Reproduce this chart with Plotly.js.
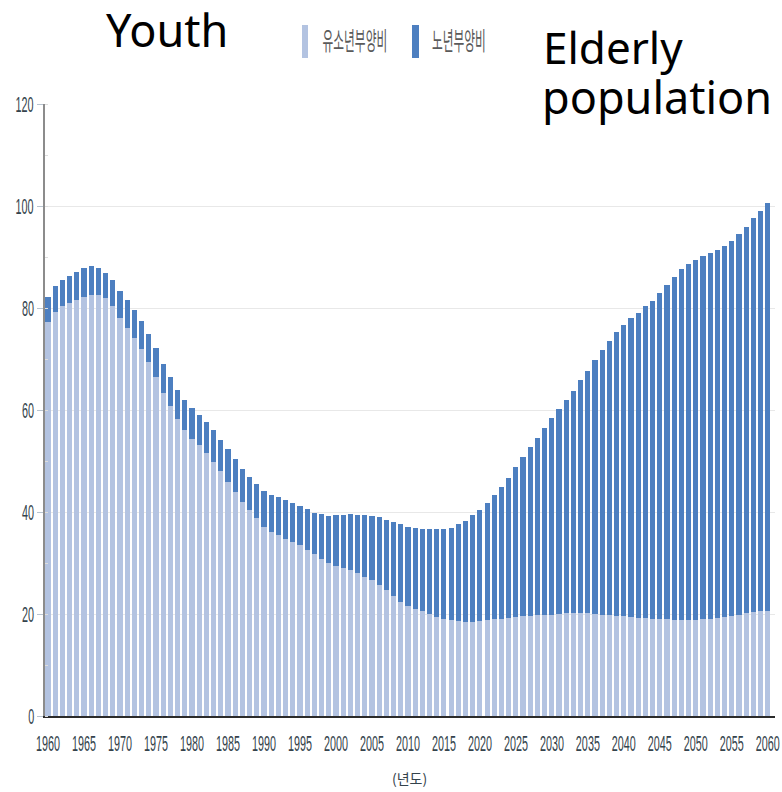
<!DOCTYPE html>
<html>
<head>
<meta charset="utf-8">
<script src="https://cdn.plot.ly/plotly-3.0.1.min.js"></script>
<style>html,body{margin:0;padding:0;background:#fff;}#chart{width:782px;height:792px;}</style>
</head>
<body>
<div id="chart"></div>
<script>
const years = [1960,1961,1962,1963,1964,1965,1966,1967,1968,1969,
1970,1971,1972,1973,1974,1975,1976,1977,1978,1979,
1980,1981,1982,1983,1984,1985,1986,1987,1988,1989,
1990,1991,1992,1993,1994,1995,1996,1997,1998,1999,
2000,2001,2002,2003,2004,2005,2006,2007,2008,2009,
2010,2011,2012,2013,2014,2015,2016,2017,2018,2019,
2020,2021,2022,2023,2024,2025,2026,2027,2028,2029,
2030,2031,2032,2033,2034,2035,2036,2037,2038,2039,
2040,2041,2042,2043,2044,2045,2046,2047,2048,2049,
2050,2051,2052,2053,2054,2055,2056,2057,2058,2059,2060];

// 유소년부양비 (youth dependency ratio)
const youth = [77.3,79.3,80.3,80.9,81.6,82.2,82.5,82.5,81.9,80.3,
78.0,76.0,74.2,72.0,69.5,66.5,63.3,60.8,58.2,56.1,
54.4,53.1,51.6,49.9,48.1,45.9,44.0,42.0,40.4,38.8,
37.1,36.1,35.5,34.8,34.2,33.5,32.6,31.7,30.8,30.0,
29.4,29.0,28.6,28.0,27.3,26.7,25.7,24.7,23.5,22.4,
21.6,20.9,20.5,20.0,19.5,19.1,18.8,18.6,18.5,18.5,
18.6,18.8,19.0,19.1,19.3,19.5,19.6,19.7,19.8,19.9,
19.9,20.0,20.1,20.1,20.1,20.1,20.0,19.9,19.8,19.7,
19.6,19.4,19.3,19.2,19.1,19.0,19.0,18.9,18.9,18.9,
18.9,19.0,19.1,19.3,19.5,19.7,19.9,20.1,20.3,20.5,20.6];

// 노년부양비 (old-age dependency ratio)
const elderly = [4.9,5.0,5.2,5.4,5.5,5.6,5.7,5.3,5.0,5.2,
5.4,5.6,5.5,5.5,5.5,5.7,5.7,5.7,5.8,5.9,
5.9,5.9,6.1,6.2,6.1,6.4,6.3,6.4,6.5,6.6,
7.1,7.2,7.4,7.6,7.5,7.7,7.9,8.2,8.8,9.2,
10.0,10.4,11.0,11.5,12.1,12.5,13.3,13.8,14.6,15.2,
15.5,15.9,16.1,16.6,17.1,17.5,18.1,19.0,19.8,20.9,
21.8,23.0,24.3,25.8,27.4,29.3,31.1,33.1,34.8,36.6,
38.5,40.2,41.9,43.6,45.7,47.6,49.8,51.9,53.8,55.6,
57.1,58.6,59.7,61.1,62.3,63.9,65.6,67.2,68.7,69.8,
70.6,71.1,71.6,72.1,72.7,73.4,74.6,75.8,77.3,78.6,79.9];

const xTickVals = [1960,1965,1970,1975,1980,1985,1990,1995,2000,2005,2010,2015,2020,2025,2030,2035,2040,2045,2050,2055,2060];
const xTickText = ['1960','1965','1970','1975','1980','1985','1990','1995','2000','2005','2010','2015','2020','2025','2030','2035','2040','2045','2050','2055','2060'];
const yTickVals = [0,20,40,60,80,100,120];
const seriesNames = ['유소년부양비','노년부양비'];
const xTitle = '(년도)';
const leftLabel = 'Youth';
const rightLabel1 = 'Elderly';
const rightLabel2 = 'population';

const cLight = '#b3c3e1';
const cDark = '#4d7fc0';
const tickFamily = '"Liberation Sans", Arial, sans-serif';
const krFamily = '"Noto Sans CJK KR", sans-serif';
const W = 782, H = 792, L = 45, R = 7, T = 104, B = 76;
const pw = W - L - R, ph = H - T - B;
const px = v => (v - L) / pw;
const py = v => (H - B - v) / ph;

const traces = [
  {type:'bar', x: years, y: youth, name: seriesNames[0], marker:{color:cLight}},
  {type:'bar', x: years, y: elderly, name: seriesNames[1], marker:{color:cDark}}
];

const layout = {
  width: W, height: H,
  margin: {l: L, r: R, t: T, b: B},
  barmode: 'stack',
  bargap: 0.28,
  showlegend: false,
  paper_bgcolor: '#ffffff',
  plot_bgcolor: '#ffffff',
  xaxis: {
    range: [1959.58, 2061],
    tickmode: 'array', tickvals: xTickVals, ticktext: xTickText,
    ticks: '', ticklabelstandoff: 15, ticklabeloverflow: 'allow',
    tickfont: {family: tickFamily, size: 12, color: '#34434c'},
    showgrid: false, zeroline: false,
    showline: true, linecolor: '#2a2a2a', linewidth: 2
  },
  yaxis: {
    range: [0, 120],
    tickmode: 'array', tickvals: yTickVals,
    ticks: 'outside', ticklen: 6, tickcolor: '#b8c4d0', tickwidth: 1,
    tickfont: {family: tickFamily, size: 12, color: '#34434c'},
    showgrid: true, gridcolor: '#e8e8e8', gridwidth: 1,
    zeroline: false,
    showline: true, linecolor: '#8c8c8c', linewidth: 2,
    minor: {dtick: 10, ticks: 'inside', ticklen: 3, tickcolor: '#dddddd', showgrid: false}
  },
  shapes: [
    {type:'rect', xref:'paper', yref:'paper', x0: px(302), x1: px(308), y0: py(58), y1: py(25), fillcolor: cLight, line:{width:0}},
    {type:'rect', xref:'paper', yref:'paper', x0: px(412), x1: px(419), y0: py(58), y1: py(25), fillcolor: cDark, line:{width:0}}
  ],
  annotations: [
    {xref:'paper', yref:'paper', x: px(355), y: py(40), xanchor:'center', yanchor:'middle', showarrow:false,
     text: seriesNames[0], font:{family: krFamily, size:13, color:'#5a5a5a'}},
    {xref:'paper', yref:'paper', x: px(459), y: py(40), xanchor:'center', yanchor:'middle', showarrow:false,
     text: seriesNames[1], font:{family: krFamily, size:13, color:'#5a5a5a'}},
    {xref:'paper', yref:'paper', x: px(409), y: py(778), xanchor:'center', yanchor:'middle', showarrow:false,
     text: xTitle, font:{family: krFamily, size:14, color:'#34434c'}},
    {xref:'paper', yref:'paper', x: px(104), y: py(30), xanchor:'left', yanchor:'middle', showarrow:false,
     text: leftLabel, font:{family:'"Noto Sans", sans-serif', size:45, color:'#000000'}},
    {xref:'paper', yref:'paper', x: px(541), y: py(47), xanchor:'left', yanchor:'middle', showarrow:false,
     text: rightLabel1, font:{family:'"Noto Sans", sans-serif', size:44, color:'#000000'}},
    {xref:'paper', yref:'paper', x: px(540), y: py(96), xanchor:'left', yanchor:'middle', showarrow:false,
     text: rightLabel2, font:{family:'"Noto Sans", sans-serif', size:45, color:'#000000'}}
  ]
};

// stretch small texts to the tall, condensed look of the reference
function stretchText(el, sx, sy) {
  const bb = el.getBBox();
  const cx = bb.x + bb.width / 2, cy = bb.y + bb.height / 2;
  const t0 = el.getAttribute('transform') || '';
  el.setAttribute('transform', t0 + ' translate(' + cx + ',' + cy + ') scale(' + sx + ',' + sy + ') translate(' + (-cx) + ',' + (-cy) + ')');
}

Plotly.newPlot('chart', traces, layout, {displayModeBar: false, staticPlot: true}).then(function (gd) {
  gd.querySelectorAll('.xtick text, .ytick text').forEach(function (el) { stretchText(el, 0.9, 1.9); });
  gd.querySelectorAll('.annotation-text').forEach(function (el) {
    const s = el.textContent;
    if (s === seriesNames[0] || s === seriesNames[1]) stretchText(el, 0.9, 1.9);
  });
});
</script>
</body>
</html>
